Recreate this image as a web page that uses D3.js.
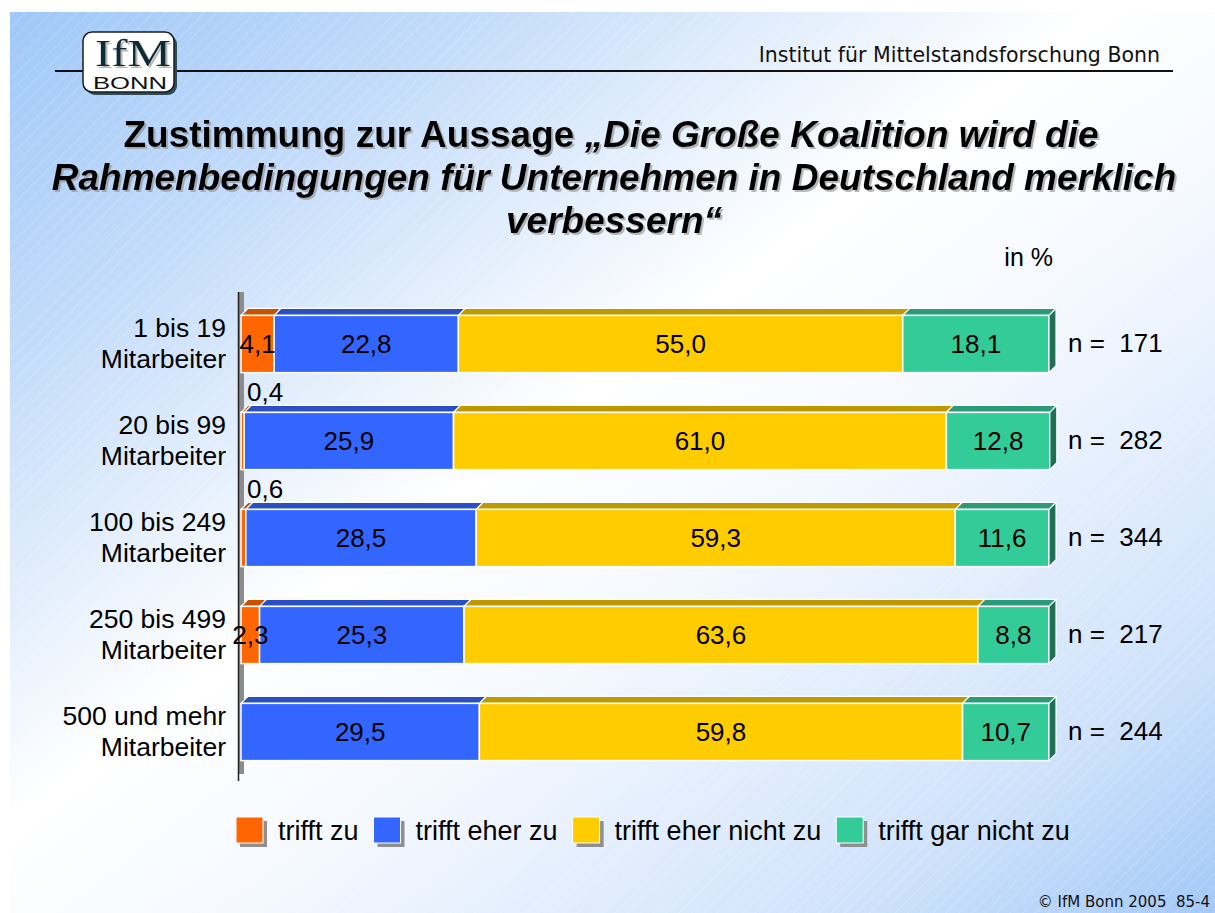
<!DOCTYPE html>
<html>
<head>
<meta charset="utf-8">
<script src="https://cdn.jsdelivr.net/npm/d3@7"></script>
<style>
    html, body { margin: 0; padding: 0; background: #fff; }
    svg { display: block; }
    text { font-family: "Liberation Sans", Arial, sans-serif; }
</style>
</head>
<body>
<svg width="1215" height="913"></svg>
<script>
// Data
const categories = ["1 bis 19", "20 bis 99", "100 bis 249", "250 bis 499", "500 und mehr"];
const categorySuffix = "Mitarbeiter";
const seriesNames = ["trifft zu", "trifft eher zu", "trifft eher nicht zu", "trifft gar nicht zu"];
const trifftZu = [4.1, 0.4, 0.6, 2.3, 0];
const trifftEherZu = [22.8, 25.9, 28.5, 25.3, 29.5];
const trifftEherNichtZu = [55.0, 61.0, 59.3, 63.6, 59.8];
const trifftGarNichtZu = [18.1, 12.8, 11.6, 8.8, 10.7];
const sampleSizes = [171, 282, 344, 217, 244];

const colors = ["#ff6600", "#3366ff", "#ffcc00", "#33cc99"];
const topColors = ["#c85200", "#2a4fc2", "#c09800", "#2a9b76"];
const sideColor = "#1f7055";

const rows = categories.map((c, i) => ({
    category: c,
    "trifft zu": trifftZu[i],
    "trifft eher zu": trifftEherZu[i],
    "trifft eher nicht zu": trifftEherNichtZu[i],
    "trifft gar nicht zu": trifftGarNichtZu[i],
    n: sampleSizes[i],
}));

const de = d3.formatLocale({ decimal: ",", thousands: ".", grouping: [3], currency: ["", " €"] });
const fmt = de.format(".1f");

const svg = d3.select("svg");
const W = 1215;
const defs = svg.append("defs");

// slide background: diagonal gradient + faint stripes
const grad = defs.append("linearGradient").attr("id", "bg").attr("x1", 0).attr("y1", 0).attr("x2", 1).attr("y2", 1);
[[0, "#9fc8f8"], [0.2, "#c4dcfa"], [0.45, "#ffffff"], [0.6, "#f4f8ff"], [0.85, "#cfe2fb"], [1, "#a2c9f7"]].forEach(([o, c]) => {
    grad.append("stop").attr("offset", o).attr("stop-color", c);
});
const stripes = defs.append("pattern").attr("id", "stripes").attr("patternUnits", "userSpaceOnUse")
    .attr("width", 9).attr("height", 9).attr("patternTransform", "rotate(-45)");
stripes.append("line").attr("x1", 0).attr("y1", 0).attr("x2", 9).attr("y2", 0)
    .attr("stroke", "#ffffff").attr("stroke-width", 1).attr("stroke-opacity", 0.35);

const shadow = defs.append("filter").attr("id", "tshadow").attr("x", -0.05).attr("y", -0.2).attr("width", 1.1).attr("height", 1.5);
shadow.append("feDropShadow").attr("dx", 2).attr("dy", 2).attr("stdDeviation", 0.6).attr("flood-color", "#8a8a8a").attr("flood-opacity", 0.6);

svg.append("rect").attr("x", 10).attr("y", 12).attr("width", W - 10).attr("height", 901).attr("fill", "url(#bg)");
svg.append("rect").attr("x", 10).attr("y", 12).attr("width", W - 10).attr("height", 901).attr("fill", "url(#stripes)");

// header
svg.append("line").attr("x1", 55).attr("x2", 1173).attr("y1", 71).attr("y2", 71).attr("stroke", "#111").attr("stroke-width", 2);
svg.append("text").attr("x", 1160).attr("y", 62).attr("text-anchor", "end")
    .style("font-family", "'DejaVu Sans', Tahoma, sans-serif").style("font-size", "20.5px").attr("fill", "#111")
    .text("Institut für Mittelstandsforschung Bonn");

// logo
const logo = svg.append("g");
logo.append("rect").attr("x", 86).attr("y", 35).attr("width", 91).attr("height", 60).attr("rx", 9)
    .attr("fill", "#2d4c5a");
logo.append("rect").attr("x", 83).attr("y", 32).attr("width", 91).attr("height", 60).attr("rx", 9)
    .attr("fill", "#ffffff").attr("stroke", "#1b1b1b").attr("stroke-width", 1.5);
logo.append("text").attr("x", 95).attr("y", 66).attr("textLength", 76).attr("lengthAdjust", "spacingAndGlyphs")
    .style("font-family", "'Liberation Serif', 'DejaVu Serif', serif").style("font-size", "38px")
    .attr("fill", "#0d2a35").attr("filter", "url(#tshadow)").text("IfM");
logo.append("text").attr("x", 93).attr("y", 89).attr("textLength", 74).attr("lengthAdjust", "spacingAndGlyphs")
    .style("font-size", "17px").attr("fill", "#111").text("BONN");

// title
const title = svg.append("text").attr("text-anchor", "middle").attr("filter", "url(#tshadow)")
    .style("font-size", "37px").style("font-weight", "bold").attr("fill", "#000");
const t1 = title.append("tspan").attr("x", 611).attr("y", 147);
t1.append("tspan").text("Zustimmung zur Aussage ");
t1.append("tspan").style("font-style", "italic").text("„Die Große Koalition wird die");
title.append("tspan").attr("x", 614).attr("y", 190).style("font-style", "italic")
    .text("Rahmenbedingungen für Unternehmen in Deutschland merklich");
title.append("tspan").attr("x", 614).attr("y", 233).style("font-style", "italic").text("verbessern“");

svg.append("text").attr("x", 1053).attr("y", 266).attr("text-anchor", "end")
    .style("font-size", "25px").text("in %");

// chart
const x = d3.scaleLinear().domain([0, 100]).range([241, 1049]);
const y = d3.scaleBand().domain(categories).range([296, 780]).paddingInner(0.41).paddingOuter(0.2);
const depth = 7;

// back wall / axis
svg.append("rect").attr("x", 238).attr("y", 292).attr("width", 6).attr("height", 482).attr("fill", "#8c8c8c");
svg.append("line").attr("x1", 238.5).attr("x2", 238.5).attr("y1", 292).attr("y2", 781).attr("stroke", "#222").attr("stroke-width", 1.5);

const stacked = d3.stack().keys(seriesNames)(rows);

const layers = svg.append("g").selectAll("g").data(stacked).join("g")
    .attr("fill", (d, i) => colors[i]);

layers.each(function (layer, si) {
    const g = d3.select(this);
    const segs = layer.filter(d => d[1] - d[0] > 0);
    // top face
    g.selectAll("path.top").data(segs).join("path").attr("class", "top")
        .attr("d", d => {
            const x0 = x(d[0]);
            const x1 = x(d[1]);
            const yt = y(d.data.category);
            return `M${x0},${yt}L${x0 + depth},${yt - depth}L${x1 + depth},${yt - depth}L${x1},${yt}Z`;
        })
        .attr("fill", topColors[si]).attr("stroke", "#fff").attr("stroke-width", 1.2);
    // front face
    g.selectAll("rect").data(segs).join("rect")
        .attr("x", d => x(d[0]))
        .attr("y", d => y(d.data.category))
        .attr("width", d => x(d[1]) - x(d[0]))
        .attr("height", y.bandwidth())
        .attr("stroke", "#fff").attr("stroke-width", 1.5);
    // side face on the outermost segment
    if (si === seriesNames.length - 1) {
        g.selectAll("path.side").data(segs).join("path").attr("class", "side")
            .attr("d", d => {
                const x1 = x(d[1]);
                const yt = y(d.data.category);
                const yb = yt + y.bandwidth();
                return `M${x1},${yt}L${x1 + depth},${yt - depth}L${x1 + depth},${yb - depth}L${x1},${yb}Z`;
            })
            .attr("fill", sideColor).attr("stroke", "#fff").attr("stroke-width", 1.2);
    }
});

// value labels
const labels = svg.append("g").style("font-size", "26px").attr("fill", "#000");
stacked.forEach(layer => {
    layer.forEach(d => {
        const v = d[1] - d[0];
        if (v <= 0) return;
        const yt = y(d.data.category);
        if (v < 1) {
            labels.append("text").attr("x", x(d[0]) + 6).attr("y", yt - 11).text(fmt(v));
        } else {
            labels.append("text").attr("x", (x(d[0]) + x(d[1])) / 2).attr("y", yt + y.bandwidth() / 2 + 9)
                .attr("text-anchor", "middle").text(fmt(v));
        }
    });
});

// category labels
const cat = svg.append("g").style("font-size", "26.5px").attr("text-anchor", "end");
categories.forEach(c => {
    const cy = y(c) + y.bandwidth() / 2;
    const t = cat.append("text").attr("x", 226);
    t.append("tspan").attr("x", 226).attr("y", cy - 7).text(c);
    t.append("tspan").attr("x", 226).attr("y", cy + 24).text(categorySuffix);
});

// sample sizes
const ns = svg.append("g").style("font-size", "26px");
rows.forEach(r => {
    ns.append("text").attr("x", 1068).attr("y", y(r.category) + y.bandwidth() / 2 + 8)
        .attr("xml:space", "preserve").text(`n =  ${r.n}`);
});

// legend
const legend = svg.append("g").attr("transform", "translate(0,817)");
let lx = 236;
seriesNames.forEach((s, i) => {
    const item = legend.append("g").attr("transform", `translate(${lx},0)`);
    item.append("rect").attr("x", 4).attr("y", 4).attr("width", 27).attr("height", 26).attr("fill", "#8f8f8f");
    item.append("rect").attr("width", 27).attr("height", 26).attr("fill", colors[i]).attr("stroke", "#fff").attr("stroke-width", 1);
    const t = item.append("text").attr("x", 42).attr("y", 23).style("font-size", "27px").text(s);
    lx += 42 + t.node().getComputedTextLength() + 15;
});

// footer
svg.append("text").attr("x", 1210).attr("y", 907).attr("text-anchor", "end")
    .style("font-family", "'DejaVu Sans', Tahoma, sans-serif").style("font-size", "15px").attr("fill", "#111")
    .attr("xml:space", "preserve").text("© IfM Bonn 2005  85-4");
</script>
</body>
</html>
